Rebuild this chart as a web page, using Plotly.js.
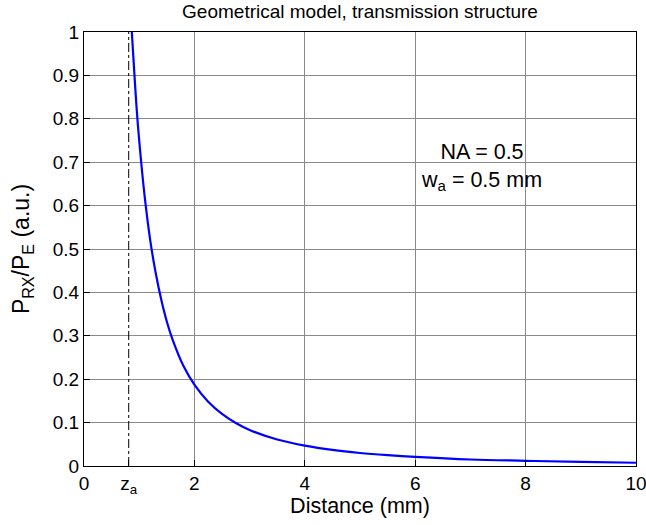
<!DOCTYPE html>
<html>
<head>
<meta charset="utf-8">
<script src="https://cdn.plot.ly/plotly-3.0.1.min.js"></script>
<style>html,body{margin:0;padding:0;background:#fff;}#chart{width:646px;height:525px;}</style>
</head>
<body>
<div id="chart"></div>
<script>
// Data
const distance = [0.866, 0.9, 0.95, 1.0, 1.1, 1.2, 1.3, 1.4, 1.5, 1.6, 1.8, 2.0, 2.25, 2.5, 2.75, 3.0, 3.5, 4.0, 4.5, 5.0, 5.5, 6.0, 7.0, 8.0, 9.0, 10.0];
const power    = [1.0, 0.93, 0.83, 0.75, 0.62, 0.52, 0.444, 0.383, 0.333, 0.293, 0.231, 0.1875, 0.148, 0.12, 0.099, 0.083, 0.061, 0.047, 0.037, 0.030, 0.025, 0.021, 0.015, 0.012, 0.0093, 0.0075];
const zA = 0.81;
const xTickVals = [0, zA, 2, 4, 6, 8, 10];
const xTickText = ['0', 'z<sub>a</sub>', '2', '4', '6', '8', '10'];
const xGridVals = [2, 4, 6, 8];
const yTickVals = [0, 0.1, 0.2, 0.3, 0.4, 0.5, 0.6, 0.7, 0.8, 0.9, 1];
const yTickText = ['0', '0.1', '0.2', '0.3', '0.4', '0.5', '0.6', '0.7', '0.8', '0.9', '1'];
const zaLineY = [0, 1];

const font = 'Liberation Sans, Arial, sans-serif';

const traces = [
  {x: [0], y: [0], xaxis: 'x2', yaxis: 'y', mode: 'markers', marker: {opacity: 0}, hoverinfo: 'skip', showlegend: false},
  {x: [zA, zA], y: zaLineY, mode: 'lines', line: {color: '#000', width: 1, dash: 'dashdot'}, hoverinfo: 'skip', showlegend: false, xaxis: 'x', yaxis: 'y'},
  {x: distance, y: power, mode: 'lines', line: {color: '#0000FF', width: 2.2, shape: 'spline'}, showlegend: false, xaxis: 'x', yaxis: 'y'}
];

const layout = {
  width: 646, height: 525,
  margin: {l: 84, r: 10, t: 32, b: 59},
  paper_bgcolor: '#fff', plot_bgcolor: '#fff',
  font: {family: font, color: '#000', size: 19},
  showlegend: false,
  title: {text: 'Geometrical model, transmission structure', font: {family: font, size: 19, color: '#000'}, x: 0.5, xanchor: 'center', xref: 'paper', y: 0.992, yanchor: 'top'},
  xaxis: {
    range: [0, 10], tickmode: 'array', tickvals: xTickVals, ticktext: xTickText,
    showgrid: false, zeroline: false, showline: true, linecolor: '#000', linewidth: 1,
    mirror: true, ticks: 'inside', ticklen: 6, tickcolor: '#000',
    ticklabeloverflow: 'allow',
    tickfont: {family: font, size: 19},
    title: {text: 'Distance (mm)', font: {family: font, size: 21.5}, standoff: 2}
  },
  xaxis2: {
    range: [0, 10], overlaying: 'x', anchor: 'y', tickmode: 'array', tickvals: xGridVals,
    showgrid: true, gridcolor: '#8a8a8a', gridwidth: 1, showticklabels: false, ticks: '', zeroline: false, showline: false
  },
  yaxis: {
    range: [0, 1], tickmode: 'array', tickvals: yTickVals, ticktext: yTickText,
    showgrid: true, gridcolor: '#8a8a8a', gridwidth: 1, zeroline: false,
    showline: true, linecolor: '#000', linewidth: 1, mirror: true,
    ticks: 'inside', ticklen: 6, tickcolor: '#000',
    tickfont: {family: font, size: 19},
    title: {text: 'P<sub>RX</sub>/P<sub>E</sub> (a.u.)', font: {family: font, size: 23}, standoff: 16}
  },
  annotations: [
    {text: 'NA = 0.5<br>w<sub>a</sub> = 0.5 mm', x: 7.2, y: 0.69, xref: 'x', yref: 'y', showarrow: false, align: 'center', font: {family: font, size: 21.5, color: '#000'}}
  ]
};

Plotly.newPlot('chart', traces, layout, {displayModeBar: false, staticPlot: true});
</script>
</body>
</html>
